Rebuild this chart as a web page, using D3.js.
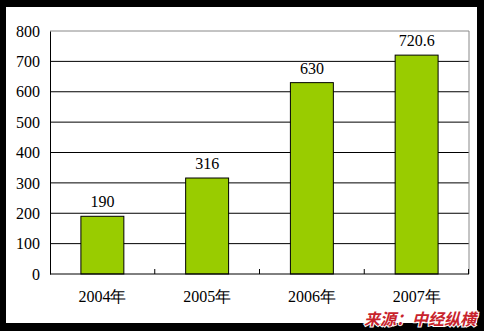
<!DOCTYPE html>
<html>
<head>
<meta charset="utf-8">
<script src="https://cdn.jsdelivr.net/npm/d3@7"></script>
<style>
  body { margin: 0; background: #000; }
  svg { display: block; }
</style>
</head>
<body>
<div id="chart"></div>
<script>
// Data
const years = ["2004年", "2005年", "2006年", "2007年"];
const values = [190, 316, 630, 720.6];
const valueLabels = ["190", "316", "630", "720.6"];
const yTicks = [0, 100, 200, 300, 400, 500, 600, 700, 800];
const sourceText = "来源：中经纵横";

const W = 484, H = 331;
const margin = {top: 31, right: 15, bottom: 57, left: 50};
const width = W - margin.left - margin.right;
const height = H - margin.top - margin.bottom;
const serif = "Liberation Serif";

const svg = d3.select("#chart").append("svg")
    .attr("width", W)
    .attr("height", H);

// white panel inside black frame
svg.append("rect")
    .attr("x", 6).attr("y", 7)
    .attr("width", 471).attr("height", 316)
    .attr("fill", "#fff");

const g = svg.append("g")
    .attr("transform", `translate(${margin.left}, ${margin.top})`);

const x = d3.scaleBand()
    .domain(years)
    .range([0, width])
    .paddingInner(0.59)
    .paddingOuter(0.295);

const y = d3.scaleLinear()
    .domain([0, 800])
    .range([height, 0]);

// gridlines
g.selectAll(".grid")
    .data(yTicks.filter(d => d > 0 && d < 800))
    .join("line")
    .attr("class", "grid")
    .attr("x1", 0).attr("x2", width)
    .attr("y1", d => y(d)).attr("y2", d => y(d))
    .attr("stroke", "#000").attr("stroke-width", 1);

// plot frame top/right (gray)
g.append("path")
    .attr("d", `M0,${y(800)}H${width}V${height}`)
    .attr("fill", "none")
    .attr("stroke", "#888");

// bars
g.selectAll(".bar")
    .data(values)
    .join("rect")
    .attr("class", "bar")
    .attr("x", (d, i) => x(years[i]))
    .attr("y", d => y(d))
    .attr("width", x.bandwidth())
    .attr("height", d => y(0) - y(d))
    .attr("fill", "#99cc00")
    .attr("stroke", "#000")
    .attr("stroke-width", 1);

// value labels
g.selectAll(".value")
    .data(values)
    .join("text")
    .attr("class", "value")
    .attr("x", (d, i) => x(years[i]) + x.bandwidth() / 2)
    .attr("y", d => y(d) - 9)
    .attr("text-anchor", "middle")
    .attr("font-family", serif)
    .attr("font-size", 16)
    .attr("fill", "#000")
    .text((d, i) => valueLabels[i]);

// y axis
const yAxis = d3.axisLeft(y).tickValues(yTicks).tickSize(0).tickPadding(10);
g.append("g")
    .call(yAxis)
    .attr("font-family", serif)
    .attr("font-size", 16)
    .call(a => a.select(".domain").attr("stroke", "#000"))
    .call(a => a.selectAll("text").attr("fill", "#000"));

// x axis line and category ticks (pointing up)
const xg = g.append("g").attr("transform", `translate(0, ${height})`);
xg.append("line")
    .attr("x1", 0).attr("x2", width)
    .attr("stroke", "#000");
xg.selectAll(".tick-mark")
    .data(d3.range(1, years.length + 1))
    .join("line")
    .attr("class", "tick-mark")
    .attr("x1", d => Math.min(d * width / years.length, width - 0.5))
    .attr("x2", d => Math.min(d * width / years.length, width - 0.5))
    .attr("y1", 0).attr("y2", -5)
    .attr("stroke", "#000");

xg.selectAll(".cat")
    .data(years)
    .join("text")
    .attr("class", "cat")
    .attr("x", d => x(d) + x.bandwidth() / 2)
    .attr("y", 28)
    .attr("text-anchor", "middle")
    .attr("font-family", serif)
    .attr("font-size", 16)
    .attr("fill", "#000")
    .text(d => d);

// source
svg.append("text")
    .attr("x", 476)
    .attr("y", 325)
    .attr("text-anchor", "end")
    .attr("font-family", "Noto Sans CJK SC")
    .attr("font-weight", "bold")
    .attr("font-style", "italic")
    .attr("font-size", 16)
    .attr("fill", "#c8232c")
    .attr("stroke", "#fff")
    .attr("stroke-width", 2)
    .attr("paint-order", "stroke")
    .text(sourceText);
</script>
</body>
</html>
